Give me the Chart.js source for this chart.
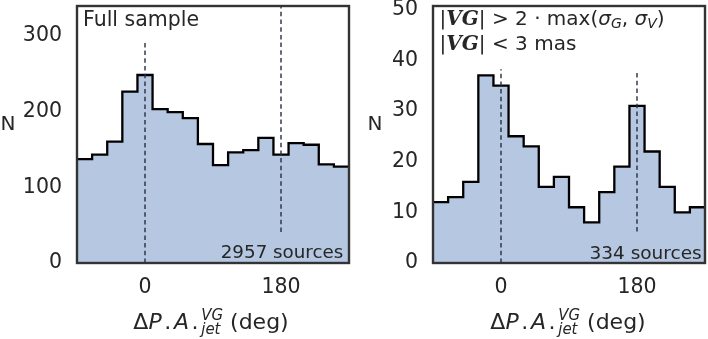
<!DOCTYPE html>
<html>
<head>
<meta charset="utf-8">
<script src="https://cdn.jsdelivr.net/npm/chart.js@4.4.0/dist/chart.umd.min.js"></script>
<style>
body { margin: 0; background: #fff; }
#wrap { position: relative; width: 708px; height: 339px; overflow: hidden; font-family: "DejaVu Sans", sans-serif; color: #262626; }
canvas { position: absolute; top: 0; }
.t { position: absolute; white-space: nowrap; line-height: 1; }
.vg { font-family: "DejaVu Serif", serif; font-weight: bold; font-style: italic; }
.sb { font-size: 0.7em; font-style: italic; vertical-align: -0.22em; }
.xt { position: absolute; white-space: nowrap; line-height: 1; font-size: 22px; transform: translateX(-50%); }
.ss { display: inline-block; vertical-align: -0.35em; line-height: 0.95; font-size: 0.68em; font-style: italic; }
.ss span { display: block; }
.dot { margin: 0 0.12em; }
</style>
</head>
<body>
<div id="wrap">
  <canvas id="left" width="360" height="339" style="left:0"></canvas>
  <canvas id="right" width="348" height="339" style="left:360px"></canvas>

  <div class="t" style="left:0.5px;top:112.8px;font-size:20px">N</div>
  <div class="t" style="left:367.5px;top:112.8px;font-size:20px">N</div>

  <div class="t" style="left:83px;top:9.3px;font-size:20.5px">Full sample</div>
  <div class="t" style="right:364.7px;top:242.8px;font-size:18.3px">2957 sources</div>
  <div class="t" style="right:6.3px;top:243.6px;font-size:18.5px">334 sources</div>

  <div class="t" style="left:439.5px;top:8.1px;font-size:20px">|<span class="vg">VG</span>| &gt; 2 · max(<i>σ</i><span class="sb">G</span>, <i>σ</i><span class="sb">V</span>)</div>
  <div class="t" style="left:439.5px;top:33.1px;font-size:20px">|<span class="vg">VG</span>| &lt; 3 mas</div>

  <div class="xt" style="left:211px;top:308px">Δ<i>P</i><span class="dot">.</span><i>A</i><span class="dot">.</span><span class="ss"><span>VG</span><span>jet</span></span> (deg)</div>
  <div class="xt" style="left:568px;top:308px">Δ<i>P</i><span class="dot">.</span><i>A</i><span class="dot">.</span><span class="ss"><span>VG</span><span>jet</span></span> (deg)</div>
</div>
<script>
// histogram bins (deg) and counts per bin
var binEdges = [-90, -70, -50, -30, -10, 10, 30, 50, 70, 90, 110, 130, 150, 170, 190, 210, 230, 250, 270];
var countsAll = [137, 143, 160, 226, 248, 203, 199, 191, 157, 129, 146, 149, 165, 143, 158, 156, 130, 127];
var countsSel = [12, 13, 16, 37, 35, 25, 23, 15, 17, 11, 8, 14, 19, 31, 22, 15, 10, 11];

var xTicks = [0, 180];
var yTicksAll = [0, 100, 200, 300];
var yTicksSel = [0, 10, 20, 30, 40, 50];
var yMaxAll = 339;
var yMaxSel = 50.7;

// dashed guide lines: [x, yFrom, yTo]
var guidesAll = [[0, 0, 294], [180, 41, 339]];
var guidesSel = [[0, 0, 38.2], [180, 6.2, 37.5]];

var frame = {
	id: 'frame',
	afterDatasetsDraw: function(chart) {
		var a = chart.chartArea, ctx = chart.ctx;
		ctx.save();
		ctx.strokeStyle = '#333333';
		ctx.lineWidth = 2.4;
		ctx.strokeRect(a.left, a.top, a.right - a.left, a.bottom - a.top);
		ctx.restore();
	}
};

function stepPoints(counts) {
	var pts = [];
	for (var i = 0; i < counts.length; i++) {
		pts.push({x: binEdges[i], y: counts[i]});
	}
	pts.push({x: binEdges[binEdges.length - 1], y: counts[counts.length - 1]});
	return pts;
}

function renderChart(id, counts, yMax, yTicks, guides, yWidth, padRight) {
	var datasets = [{
		data: stepPoints(counts),
		stepped: 'before',
		fill: 'origin',
		backgroundColor: 'rgb(182, 199, 225)',
		borderColor: '#000000',
		borderWidth: 2.3,
		pointRadius: 0,
		order: 2
	}];
	guides.forEach(function(g) {
		datasets.push({
			data: [{x: g[0], y: g[1]}, {x: g[0], y: g[2]}],
			borderColor: '#26303f',
			borderWidth: 1.4,
			borderDash: [4.5, 3.2],
			pointRadius: 0,
			fill: false,
			order: 1
		});
	});
	var tickFont = {family: 'DejaVu Sans', size: 20.5};
	return new Chart(document.getElementById(id), {
		type: 'line',
		data: {datasets: datasets},
		options: {
			responsive: false,
			animation: false,
			layout: {padding: {top: 6, right: padRight, left: 0, bottom: 0}},
			plugins: {legend: {display: false}, tooltip: {enabled: false}},
			scales: {
				x: {
					type: 'linear', min: -90, max: 270,
					grid: {display: false, drawTicks: false},
					border: {display: false},
					ticks: {font: tickFont, color: '#262626', padding: 12.7, maxRotation: 0},
					afterBuildTicks: function(s) { s.ticks = xTicks.map(function(v) { return {value: v}; }); },
					afterFit: function(s) { s.height = 76; s.paddingLeft = 0; s.paddingRight = 0; }
				},
				y: {
					type: 'linear', min: 0, max: yMax,
					grid: {display: false, drawTicks: false},
					border: {display: false},
					ticks: {font: tickFont, color: '#262626', padding: 15},
					afterBuildTicks: function(s) { s.ticks = yTicks.map(function(v) { return {value: v}; }); },
					afterFit: function(s) { s.width = yWidth; s.paddingTop = 0; s.paddingBottom = 0; }
				}
			}
		},
		plugins: [frame]
	});
}

renderChart('left', countsAll, yMaxAll, yTicksAll, guidesAll, 77, 11);
renderChart('right', countsSel, yMaxSel, yTicksSel, guidesSel, 73, 3);
</script>
</body>
</html>
